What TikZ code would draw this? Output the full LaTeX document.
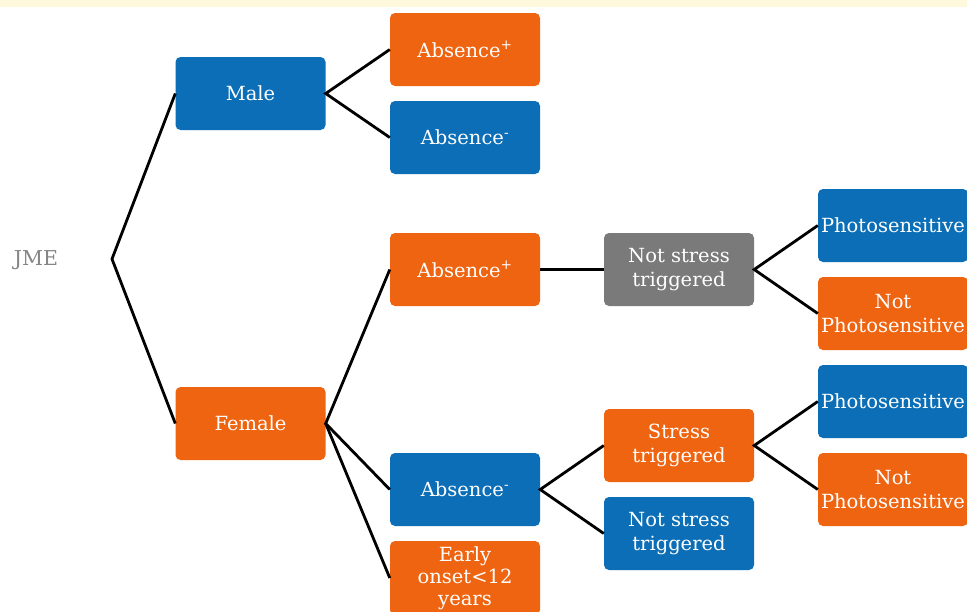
\documentclass[tikz,border=0pt]{standalone}
\usepackage{fontspec}
\setmainfont{DejaVu Serif}
\definecolor{cream}{HTML}{FEF8DC}
\definecolor{boxorange}{HTML}{EF6410}
\definecolor{boxblue}{HTML}{0B6EB6}
\definecolor{boxgray}{HTML}{7A7A7A}
\definecolor{jmegray}{HTML}{858585}
\tikzset{
  box/.style={rounded corners=5pt, minimum width=150pt, minimum height=73pt, inner sep=0pt,
    text=white, align=center, font=\fontsize{19.5}{23.5}\selectfont},
  obox/.style={box, fill=boxorange},
  bbox/.style={box, fill=boxblue},
  gbox/.style={box, fill=boxgray},
  link/.style={line width=2.8pt, black}
}
\begin{document}
\begin{tikzpicture}[x=1pt,y=-1pt]
\useasboundingbox (0,0) rectangle (967,611);
\clip (0,0) rectangle (967,611);
\fill[white] (0,0) rectangle (967,611);
\fill[cream] (0,0) rectangle (967,7);
\node[text=jmegray, font=\fontsize{20.5}{24}\selectfont] (jme) at (36,260) {JME};
\coordinate (fork) at (112,259);
\node[bbox] (male) at (250.5,93.5) {Male};
\node[obox] (mabp) at (465,49.5) {Absence\textsuperscript{+}};
\node[bbox] (mabm) at (465,137.5) {Absence\textsuperscript{-}};
\node[obox] (female) at (250.5,423.5) {Female};
\node[obox] (fabp) at (465,269.5) {Absence\textsuperscript{+}};
\node[bbox] (fabm) at (465,489.5) {Absence\textsuperscript{-}};
\node[obox, minimum height=74pt, font=\fontsize{19.5}{22}\selectfont] (early) at (465,578) {Early\\onset<12\\years};
\node[gbox] (nst) at (679,269.5) {Not stress\\triggered};
\node[obox] (st) at (679,445.5) {Stress\\triggered};
\node[bbox] (nstb) at (679,533.5) {Not stress\\triggered};
\node[bbox] (p1) at (893,225.5) {Photosensitive};
\node[obox] (np1) at (893,313.5) {Not\\Photosensitive};
\node[bbox] (p2) at (893,401.5) {Photosensitive};
\node[obox] (np2) at (893,489.5) {Not\\Photosensitive};
\draw[link] (male.west) -- (fork) -- (female.west);
\draw[link] (mabp.west) -- (male.east) -- (mabm.west);
\draw[link] (fabp.west) -- (female.east) -- (fabm.west);
\draw[link] (female.east) -- (early.west);
\draw[link] (fabp.east) -- (nst.west);
\draw[link] (p1.west) -- (nst.east) -- (np1.west);
\draw[link] (st.west) -- (fabm.east) -- (nstb.west);
\draw[link] (p2.west) -- (st.east) -- (np2.west);
\end{tikzpicture}
\end{document}
